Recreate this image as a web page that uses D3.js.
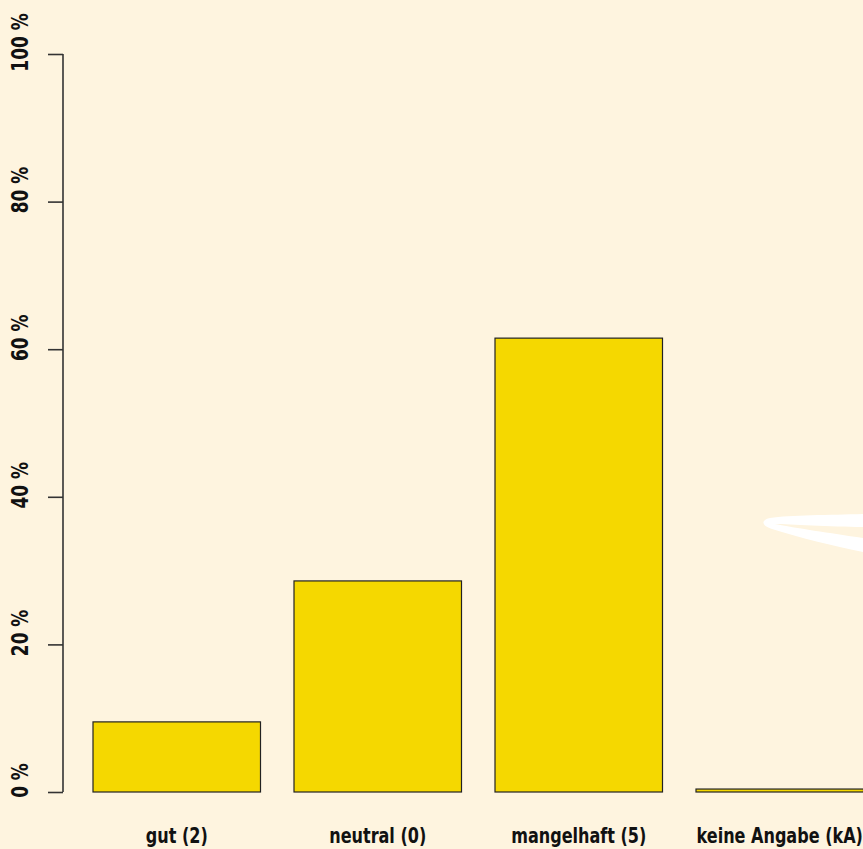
<!DOCTYPE html>
<html>
<head>
<meta charset="utf-8">
<script src="https://cdn.jsdelivr.net/npm/d3@7"></script>
<style>
html,body{margin:0;padding:0;background:#fef4df;}
svg{display:block;}
</style>
</head>
<body>
<svg id="chart" width="863" height="849"></svg>
<script>
const categories = ["gut (2)", "neutral (0)", "mangelhaft (5)", "keine Angabe (kA)"];
const values = [9.5, 28.6, 61.5, 0.4];
const yTicks = [0, 20, 40, 60, 80, 100];
const yTickLabels = ["0 %", "20 %", "40 %", "60 %", "80 %", "100 %"];

const W = 863, H = 849;
const svg = d3.select("#chart");
svg.append("rect").attr("width", W).attr("height", H).attr("fill", "#fef4df");

// decorative swoosh
svg.append("path")
  .attr("d", "M863,514 C830,515 790,515 770,518 C760,520 762,526 772,529 C800,538 835,546 863,552 L863,538 C830,533 795,528 775,524 C790,524 830,527 863,527 Z")
  .attr("fill", "#ffffff");

const y = d3.scaleLinear().domain([0, 100]).range([792, 54]);
const x = d3.scaleBand().domain(categories).range([59.5, 897]).paddingInner(1/6).paddingOuter(1/6);

const font = "'DejaVu Sans Condensed', 'DejaVu Sans', sans-serif";

// bars
svg.append("g").selectAll("rect").data(values).join("rect")
  .attr("x", (d, i) => x(categories[i]))
  .attr("y", d => y(d))
  .attr("width", x.bandwidth())
  .attr("height", d => y(0) - y(d))
  .attr("fill", "#f5d800")
  .attr("stroke", "#222")
  .attr("stroke-width", 1.2);

function squeeze(sel, f) {
  sel.each(function() {
    const len = this.getComputedTextLength();
    d3.select(this).attr("textLength", len * f).attr("lengthAdjust", "spacingAndGlyphs");
  });
}

// y axis
const axis = d3.axisLeft(y).tickValues(yTicks).tickSize(15).tickFormat((d, i) => yTickLabels[i]);
const gy = svg.append("g").attr("transform", "translate(63,0)").call(axis);
gy.select(".domain").attr("stroke", "#333").attr("stroke-width", 1.6).attr("d", "M0," + y(100) + "V" + y(0));
gy.selectAll(".tick line").attr("stroke", "#333").attr("stroke-width", 1.6);
const yt = gy.selectAll(".tick text")
  .attr("transform", "rotate(-90)")
  .attr("x", 12)
  .attr("y", -35)
  .attr("dy", 0)
  .attr("text-anchor", "middle")
  .attr("fill", "#111")
  .style("font-family", font)
  .style("font-weight", "bold")
  .style("font-size", "23px");
squeeze(yt, 0.82);

// category labels
const ct = svg.append("g").selectAll("text").data(categories).join("text")
  .attr("x", d => x(d) + x.bandwidth() / 2)
  .attr("y", 843)
  .attr("text-anchor", "middle")
  .attr("fill", "#111")
  .style("font-family", font)
  .style("font-weight", "bold")
  .style("font-size", "20.5px")
  .text(d => d);
squeeze(ct, 0.87);
</script>
</body>
</html>
